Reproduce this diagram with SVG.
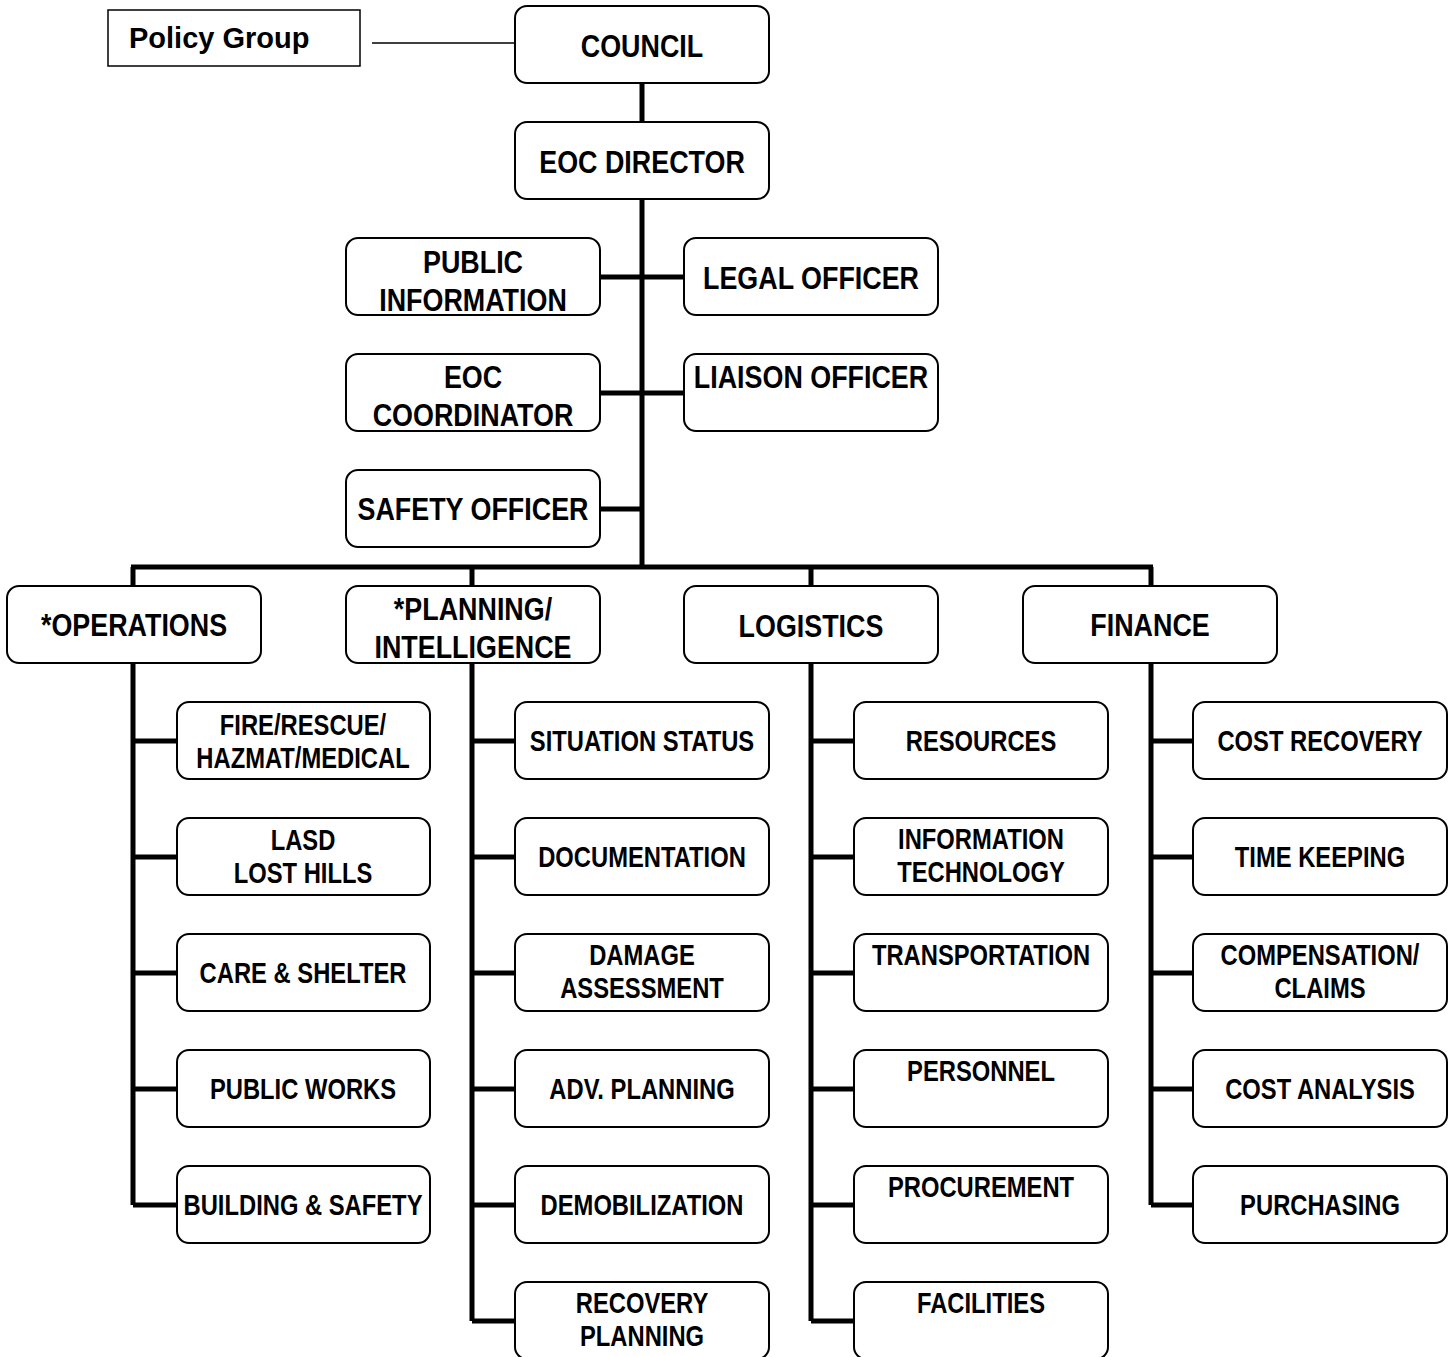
<svg xmlns="http://www.w3.org/2000/svg" width="1453" height="1357" viewBox="0 0 1453 1357">
<style>
.b{fill:#fff;stroke:#000;stroke-width:2}
.c{fill:none;stroke:#000;stroke-width:5}
.t{font-family:"Liberation Sans",Arial,sans-serif;font-weight:bold;text-anchor:middle;fill:#000}
.h{font-size:32px}
.s{font-size:29px}
.p{font-family:"Liberation Sans",Arial,sans-serif;font-weight:bold;font-size:29px;fill:#000}
</style>
<rect width="1453" height="1357" fill="#fff"/>
<g id="connectors">
<line x1="372" y1="43" x2="515" y2="43" stroke="#000" stroke-width="1.5"/>
<path class="c" d="M642 83V122M642 199V567M600 277H684M600 393H684M600 509H642M131 567H1153M133 567V586M472 567V586M811 567V586M1151 567V586"/>
<path class="c" d="M133 663V1205M133 741H177M133 857H177M133 973H177M133 1089H177M133 1205H177"/>
<path class="c" d="M472 663V1321M472 741H515M472 857H515M472 973H515M472 1089H515M472 1205H515M472 1321H515"/>
<path class="c" d="M811 663V1321M811 741H854M811 857H854M811 973H854M811 1089H854M811 1205H854M811 1321H854"/>
<path class="c" d="M1151 663V1205M1151 741H1193M1151 857H1193M1151 973H1193M1151 1089H1193M1151 1205H1193"/>
</g>
<g id="policy"><rect x="108" y="10" width="252" height="56" fill="#fff" stroke="#000" stroke-width="1.5"/><text class="p" x="129" y="48">Policy Group</text></g>
<g id="council"><rect class="b" x="515" y="6" width="254" height="77" rx="12"/><g transform="translate(642 0) scale(0.84 1)"><text class="t h" x="0" y="57">COUNCIL</text></g></g>
<g id="director"><rect class="b" x="515" y="122" width="254" height="77" rx="12"/><g transform="translate(642 0) scale(0.84 1)"><text class="t h" x="0" y="173">EOC DIRECTOR</text></g></g>
<g id="pio"><rect class="b" x="346" y="238" width="254" height="77" rx="12"/><g transform="translate(473 0) scale(0.84 1)"><text class="t h" x="0" y="273">PUBLIC</text><text class="t h" x="0" y="311">INFORMATION</text></g></g>
<g id="legal"><rect class="b" x="684" y="238" width="254" height="77" rx="12"/><g transform="translate(811 0) scale(0.84 1)"><text class="t h" x="0" y="289">LEGAL OFFICER</text></g></g>
<g id="coord"><rect class="b" x="346" y="354" width="254" height="77" rx="12"/><g transform="translate(473 0) scale(0.84 1)"><text class="t h" x="0" y="388">EOC</text><text class="t h" x="0" y="426">COORDINATOR</text></g></g>
<g id="liaison"><rect class="b" x="684" y="354" width="254" height="77" rx="12"/><g transform="translate(811 0) scale(0.84 1)"><text class="t h" x="0" y="388">LIAISON OFFICER</text></g></g>
<g id="safety"><rect class="b" x="346" y="470" width="254" height="77" rx="12"/><g transform="translate(473 0) scale(0.84 1)"><text class="t h" x="0" y="520">SAFETY OFFICER</text></g></g>
<g id="ops"><rect class="b" x="7" y="586" width="254" height="77" rx="12"/><g transform="translate(134 0) scale(0.84 1)"><text class="t h" x="0" y="636">*OPERATIONS</text></g></g>
<g id="plan"><rect class="b" x="346" y="586" width="254" height="77" rx="12"/><g transform="translate(473 0) scale(0.84 1)"><text class="t h" x="0" y="620">*PLANNING/</text><text class="t h" x="0" y="658">INTELLIGENCE</text></g></g>
<g id="log"><rect class="b" x="684" y="586" width="254" height="77" rx="12"/><g transform="translate(811 0) scale(0.84 1)"><text class="t h" x="0" y="637">LOGISTICS</text></g></g>
<g id="fin"><rect class="b" x="1023" y="586" width="254" height="77" rx="12"/><g transform="translate(1150 0) scale(0.84 1)"><text class="t h" x="0" y="636">FINANCE</text></g></g>
<g id="fire"><rect class="b" x="177" y="702" width="253" height="77" rx="12"/><g transform="translate(303 0) scale(0.82 1)"><text class="t s" x="0" y="735">FIRE/RESCUE/</text><text class="t s" x="0" y="768">HAZMAT/MEDICAL</text></g></g>
<g id="lasd"><rect class="b" x="177" y="818" width="253" height="77" rx="12"/><g transform="translate(303 0) scale(0.82 1)"><text class="t s" x="0" y="850">LASD</text><text class="t s" x="0" y="883">LOST HILLS</text></g></g>
<g id="care"><rect class="b" x="177" y="934" width="253" height="77" rx="12"/><g transform="translate(303 0) scale(0.82 1)"><text class="t s" x="0" y="983">CARE &amp; SHELTER</text></g></g>
<g id="pw"><rect class="b" x="177" y="1050" width="253" height="77" rx="12"/><g transform="translate(303 0) scale(0.82 1)"><text class="t s" x="0" y="1099">PUBLIC WORKS</text></g></g>
<g id="bs"><rect class="b" x="177" y="1166" width="253" height="77" rx="12"/><g transform="translate(303 0) scale(0.82 1)"><text class="t s" x="0" y="1215">BUILDING &amp; SAFETY</text></g></g>
<g id="sit"><rect class="b" x="515" y="702" width="254" height="77" rx="12"/><g transform="translate(642 0) scale(0.82 1)"><text class="t s" x="0" y="751">SITUATION STATUS</text></g></g>
<g id="doc"><rect class="b" x="515" y="818" width="254" height="77" rx="12"/><g transform="translate(642 0) scale(0.82 1)"><text class="t s" x="0" y="867">DOCUMENTATION</text></g></g>
<g id="dmg"><rect class="b" x="515" y="934" width="254" height="77" rx="12"/><g transform="translate(642 0) scale(0.82 1)"><text class="t s" x="0" y="965">DAMAGE</text><text class="t s" x="0" y="998">ASSESSMENT</text></g></g>
<g id="adv"><rect class="b" x="515" y="1050" width="254" height="77" rx="12"/><g transform="translate(642 0) scale(0.82 1)"><text class="t s" x="0" y="1099">ADV. PLANNING</text></g></g>
<g id="demob"><rect class="b" x="515" y="1166" width="254" height="77" rx="12"/><g transform="translate(642 0) scale(0.82 1)"><text class="t s" x="0" y="1215">DEMOBILIZATION</text></g></g>
<g id="recov"><rect class="b" x="515" y="1282" width="254" height="77" rx="12"/><g transform="translate(642 0) scale(0.82 1)"><text class="t s" x="0" y="1313">RECOVERY</text><text class="t s" x="0" y="1346">PLANNING</text></g></g>
<g id="res"><rect class="b" x="854" y="702" width="254" height="77" rx="12"/><g transform="translate(981 0) scale(0.82 1)"><text class="t s" x="0" y="751">RESOURCES</text></g></g>
<g id="it"><rect class="b" x="854" y="818" width="254" height="77" rx="12"/><g transform="translate(981 0) scale(0.82 1)"><text class="t s" x="0" y="849">INFORMATION</text><text class="t s" x="0" y="882">TECHNOLOGY</text></g></g>
<g id="trans"><rect class="b" x="854" y="934" width="254" height="77" rx="12"/><g transform="translate(981 0) scale(0.82 1)"><text class="t s" x="0" y="965">TRANSPORTATION</text></g></g>
<g id="pers"><rect class="b" x="854" y="1050" width="254" height="77" rx="12"/><g transform="translate(981 0) scale(0.82 1)"><text class="t s" x="0" y="1081">PERSONNEL</text></g></g>
<g id="proc"><rect class="b" x="854" y="1166" width="254" height="77" rx="12"/><g transform="translate(981 0) scale(0.82 1)"><text class="t s" x="0" y="1197">PROCUREMENT</text></g></g>
<g id="fac"><rect class="b" x="854" y="1282" width="254" height="77" rx="12"/><g transform="translate(981 0) scale(0.82 1)"><text class="t s" x="0" y="1313">FACILITIES</text></g></g>
<g id="costrec"><rect class="b" x="1193" y="702" width="254" height="77" rx="12"/><g transform="translate(1320 0) scale(0.82 1)"><text class="t s" x="0" y="751">COST RECOVERY</text></g></g>
<g id="time"><rect class="b" x="1193" y="818" width="254" height="77" rx="12"/><g transform="translate(1320 0) scale(0.82 1)"><text class="t s" x="0" y="867">TIME KEEPING</text></g></g>
<g id="comp"><rect class="b" x="1193" y="934" width="254" height="77" rx="12"/><g transform="translate(1320 0) scale(0.82 1)"><text class="t s" x="0" y="965">COMPENSATION/</text><text class="t s" x="0" y="998">CLAIMS</text></g></g>
<g id="costan"><rect class="b" x="1193" y="1050" width="254" height="77" rx="12"/><g transform="translate(1320 0) scale(0.82 1)"><text class="t s" x="0" y="1099">COST ANALYSIS</text></g></g>
<g id="purch"><rect class="b" x="1193" y="1166" width="254" height="77" rx="12"/><g transform="translate(1320 0) scale(0.82 1)"><text class="t s" x="0" y="1215">PURCHASING</text></g></g>
</svg>
